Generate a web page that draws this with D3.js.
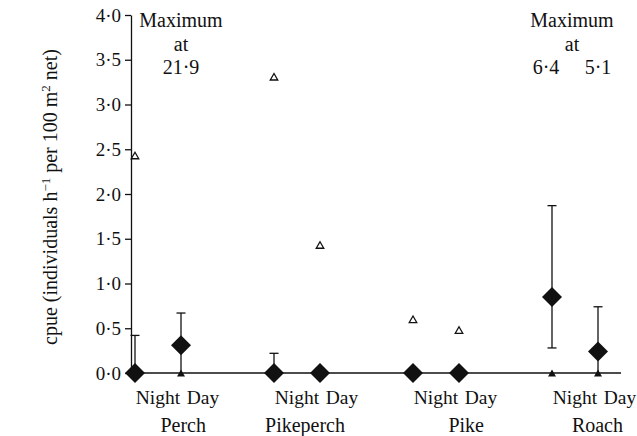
<!DOCTYPE html>
<html>
<head>
<meta charset="utf-8">
<script src="https://cdn.jsdelivr.net/npm/d3@7"></script>
<style>
  html, body { margin: 0; padding: 0; background: #fff; }
  svg { display: block; }
  text { font-family: "Liberation Serif", "Times New Roman", serif; fill: #111; }
</style>
</head>
<body>
<svg id="chart" width="637" height="436"></svg>
<script>
// Species groups and sampling periods
const species = ["Perch", "Pikeperch", "Pike", "Roach"];
const periods = ["Night", "Day"];

// Central values (diamonds), per species: [Night, Day]
const centre = [[0, 0.31], [0, 0], [0, 0], [0.85, 0.24]];
// Whisker ends (null = no whisker)
const whiskerLow  = [[0, 0], [0, null], [null, null], [0.28, 0]];
const whiskerHigh = [[0.42, 0.67], [0.22, null], [null, null], [1.87, 0.74]];
// Maximum (open triangles) and minimum (filled triangles)
const maximum = [[2.43, 21.9], [3.31, 1.43], [0.60, 0.48], [6.4, 5.1]];
const minimum = [[0, 0], [0, 0], [0, 0], [0, 0]];

// Axis ticks
const yTicks = [0, 0.5, 1, 1.5, 2, 2.5, 3, 3.5, 4];

const svg = d3.select("#chart");
const ink = "#111";

const axisLeftX = 131, axisRightX = 621;
const y = d3.scaleLinear().domain([0, 4]).range([373, 15]);
const xGroup = d3.scalePoint().domain(species).range([158, 575]);
const xSub = d3.scalePoint().domain(periods).range([-23, 23]);
const xPos = (g, p) => xGroup(species[g]) + xSub(periods[p]);

const fmt = v => d3.format(".1f")(v).replace(".", "·");

// Flatten series into point records
const pts = [];
species.forEach((s, g) => periods.forEach((p, k) => {
  pts.push({
    g, k, x: xPos(g, k),
    c: centre[g][k], lo: whiskerLow[g][k], hi: whiskerHigh[g][k],
    max: maximum[g][k], min: minimum[g][k]
  });
}));

// Y axis
const yAxis = d3.axisLeft(y).tickValues(yTicks).tickSize(6).tickSizeOuter(0).tickPadding(4).tickFormat(fmt);
const gy = svg.append("g").attr("transform", `translate(${axisLeftX},0)`).call(yAxis);
gy.select(".domain").attr("stroke", ink).attr("stroke-width", 1.3);
gy.selectAll(".tick line").attr("stroke", ink).attr("stroke-width", 1.3);
gy.selectAll(".tick text").style("font-size", "19px").attr("fill", ink)
  .style("font-family", '"Liberation Serif", serif');

// Baseline (x axis)
svg.append("line")
  .attr("x1", axisLeftX).attr("x2", axisRightX)
  .attr("y1", y(0)).attr("y2", y(0))
  .attr("stroke", ink).attr("stroke-width", 1.3);

// Y axis title
const title = svg.append("text")
  .attr("transform", `translate(57,197) rotate(-90)`)
  .attr("text-anchor", "middle")
  .style("font-size", "20px");
title.append("tspan").text("cpue (individuals h");
title.append("tspan").attr("dy", -7).style("font-size", "13px").text("−1");
title.append("tspan").attr("dy", 7).text(" per 100 m");
title.append("tspan").attr("dy", -7).style("font-size", "13px").text("2");
title.append("tspan").attr("dy", 7).text(" net)");

// Category labels (period under each pair, species below)
const periodShift = [23, 22];
pts.forEach(d => {
  svg.append("text").attr("x", d.x + periodShift[d.k]).attr("y", 404)
    .attr("text-anchor", "middle").style("font-size", "19.5px")
    .text(periods[d.k]);
});
species.forEach((s, g) => {
  svg.append("text").attr("x", xPos(g, 1) + 25).attr("y", 432)
    .attr("text-anchor", "end").style("font-size", "20px").text(s);
});

// Whiskers
const capW = 4.5;
pts.filter(d => d.hi !== null).forEach(d => {
  svg.append("line").attr("x1", d.x).attr("x2", d.x)
    .attr("y1", y(d.lo)).attr("y2", y(d.hi))
    .attr("stroke", ink).attr("stroke-width", 1.3);
  svg.append("line").attr("x1", d.x - capW).attr("x2", d.x + capW)
    .attr("y1", y(d.hi)).attr("y2", y(d.hi))
    .attr("stroke", ink).attr("stroke-width", 1.3);
  if (d.lo > 0) {
    svg.append("line").attr("x1", d.x - capW).attr("x2", d.x + capW)
      .attr("y1", y(d.lo)).attr("y2", y(d.lo))
      .attr("stroke", ink).attr("stroke-width", 1.3);
  }
});

// Triangle path helper
const tri = (cx, cy, w, h) =>
  `M${cx},${cy - h / 2} L${cx + w / 2},${cy + h / 2} L${cx - w / 2},${cy + h / 2} Z`;

// Minimum values: filled triangles
svg.selectAll(".min").data(pts).join("path").attr("class", "min")
  .attr("d", d => tri(d.x, y(d.min), 8, 7))
  .attr("fill", ink);

// Maximum values within the axis range: open triangles
svg.selectAll(".max").data(pts.filter(d => d.max <= 4)).join("path").attr("class", "max")
  .attr("d", d => tri(d.x, y(d.max), 7.5, 6.5))
  .attr("fill", "none").attr("stroke", ink).attr("stroke-width", 1.3);

// Central values: filled diamonds
const dh = 10;
svg.selectAll(".ctr").data(pts).join("path").attr("class", "ctr")
  .attr("d", d => {
    const cx = d.x, cy = y(d.c);
    return `M${cx},${cy - dh} L${cx + dh},${cy} L${cx},${cy + dh} L${cx - dh},${cy} Z`;
  })
  .attr("fill", ink);

// Maxima beyond the axis range, stated as text
const offScale = pts.filter(d => d.max > 4);
d3.groups(offScale, d => d.g).forEach(([g, list]) => {
  const cx = list.length > 1 ? xGroup(species[g]) - 3 : list[0].x;
  svg.append("text").attr("x", cx).attr("y", 27).attr("text-anchor", "middle")
    .style("font-size", "20px").text("Maximum");
  svg.append("text").attr("x", cx).attr("y", 51).attr("text-anchor", "middle")
    .style("font-size", "20px").text("at");
  list.forEach(d => {
    const tx = list.length > 1 ? d.x - (d.k === 0 ? 6 : 0) : cx;
    svg.append("text").attr("x", tx).attr("y", 74).attr("text-anchor", "middle")
      .style("font-size", "20px").text(fmt(d.max));
  });
});
</script>
</body>
</html>
